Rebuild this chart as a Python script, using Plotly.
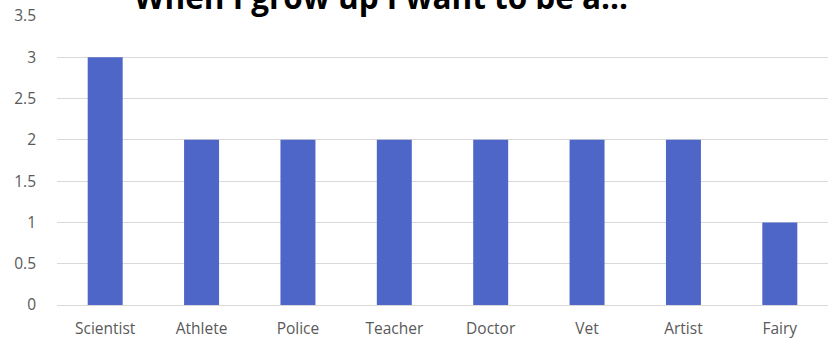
import plotly.graph_objects as go

categories = ["Scientist", "Athlete", "Police", "Teacher", "Doctor", "Vet", "Artist", "Fairy"]
values = [3, 2, 2, 2, 2, 2, 2, 1]
y_ticks = [0, 0.5, 1, 1.5, 2, 2.5, 3, 3.5]
y_tick_labels = ["0", "0.5", "1", "1.5", "2", "2.5", "3", "3.5"]
title_text = "When I grow up I want to be a..."

fig = go.Figure(go.Bar(x=categories, y=values, marker=dict(color="#4F66C9", line=dict(width=0)), width=0.363))

fig.update_layout(
    width=828, height=347,
    margin=dict(l=57, r=0, t=16, b=42),
    paper_bgcolor="white", plot_bgcolor="white",
    font=dict(family="Open Sans", size=15.5, color="#595959"),
    showlegend=False,
)
fig.add_annotation(text="<b>" + title_text + "</b>", xref="paper", yref="paper", x=0.42, y=1,
                   xanchor="center", yanchor="middle", yshift=20, showarrow=False,
                   font=dict(family="Open Sans", size=31.5, color="#000000"))
fig.update_xaxes(showgrid=False, showline=False, ticks="", ticklabelstandoff=12,
                 tickfont=dict(size=15.5, color="#595959"))
fig.update_yaxes(range=[0, 3.5], tickvals=y_ticks, ticktext=y_tick_labels, showgrid=True,
                 gridcolor="#D9D9D9", gridwidth=1, zeroline=True, zerolinecolor="#D9D9D9",
                 zerolinewidth=1, ticks="", ticklabelstandoff=20, tickfont=dict(size=15.5, color="#595959"))

fig.write_html("out.html")
